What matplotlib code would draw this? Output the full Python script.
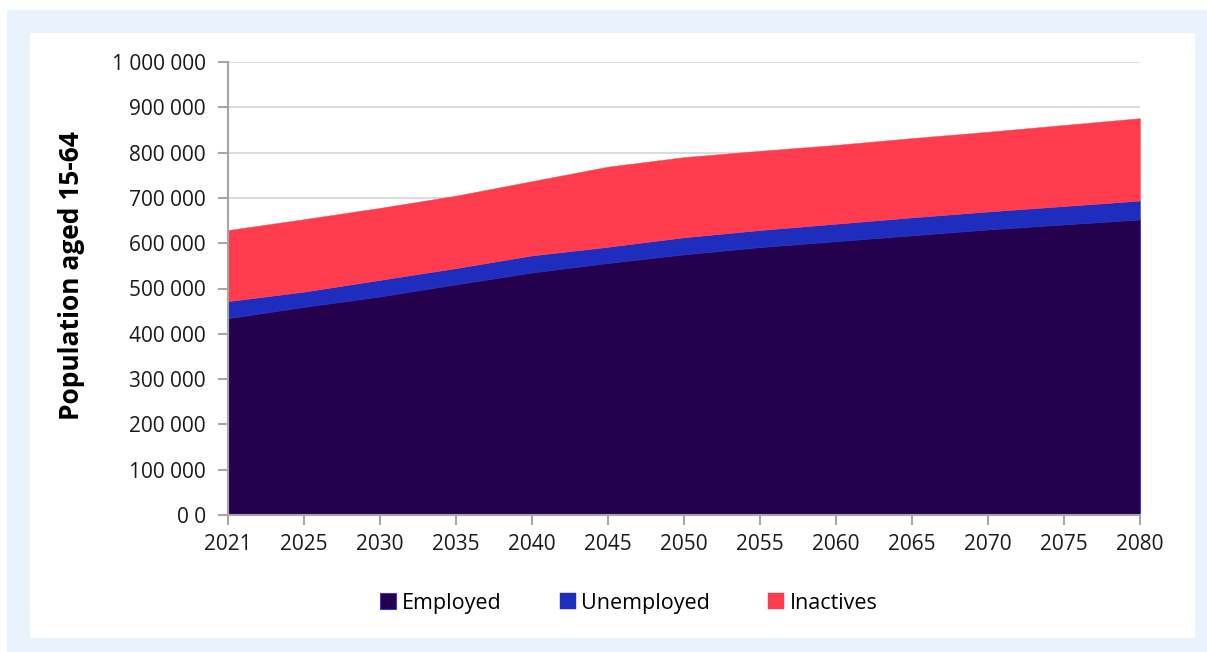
import matplotlib.pyplot as plt
import numpy as np
from matplotlib.patches import Rectangle
from matplotlib.ticker import FuncFormatter

plt.rcParams['font.family'] = ['Open Sans', 'DejaVu Sans']

# Données (population 15-64)
years = ['2021', '2025', '2030', '2035', '2040', '2045', '2050',
         '2055', '2060', '2065', '2070', '2075', '2080']
employed = [435000, 460000, 483000, 510000, 536000, 557000, 576000,
            592000, 605000, 618000, 631000, 642000, 653000]
unemployed = [37000, 33000, 36000, 35000, 37000, 35000, 37000,
              37000, 38000, 39000, 39000, 40000, 41000]
inactives = [157000, 160000, 159000, 160000, 164000, 177000, 177000,
             175000, 174000, 175000, 176000, 179000, 182000]

c_emp = '#25004D'
c_unemp = '#1F2DBE'
c_inact = '#FF3C4D'

fig = plt.figure(figsize=(12.07, 6.52), dpi=100)
fig.patch.set_facecolor('white')

# cadre bleu clair + fond blanc
fig.add_artist(Rectangle((7 / 1207, 0), 1 - 7 / 1207, 1 - 10 / 652,
                         transform=fig.transFigure, facecolor='#EAF3FC',
                         edgecolor='none', zorder=-2))
fig.add_artist(Rectangle((30 / 1207, 1 - 638 / 652), (1195 - 30) / 1207, (638 - 33) / 652,
                         transform=fig.transFigure, facecolor='white',
                         edgecolor='none', zorder=-1))

ax = fig.add_axes([228 / 1207, 1 - 515 / 652, (1140 - 228) / 1207, (515 - 62) / 652])
ax.set_facecolor('none')

x = np.arange(len(years))
polys = ax.stackplot(x, employed, unemployed, inactives,
                     colors=[c_emp, c_unemp, c_inact],
                     labels=['Employed', 'Unemployed', 'Inactives'])
polys[0].set_edgecolor('#3A3AD0')
polys[0].set_linewidth(0.8)
polys[1].set_edgecolor(c_unemp)
polys[1].set_linewidth(0.3)
polys[2].set_edgecolor(c_inact)
polys[2].set_linewidth(0.3)

ax.set_xlim(0, len(years) - 1)
ax.set_ylim(0, 1000000)
ax.set_yticks(np.arange(0, 1000001, 100000))
ax.yaxis.set_major_formatter(FuncFormatter(
    lambda v, p: '0 0' if v == 0 else f'{int(v):,}'.replace(',', ' ')))
ax.set_xticks(x)
ax.set_xticklabels(years)

ax.grid(axis='y', color='#D4D4D4', linewidth=1.2)
ax.set_axisbelow(True)
for s in ['top', 'right']:
    ax.spines[s].set_visible(False)
for s in ['left', 'bottom']:
    ax.spines[s].set_color('#A6A6A6')
    ax.spines[s].set_linewidth(1.5)
    ax.spines[s].set_zorder(5)
ax.tick_params(axis='both', colors='#A6A6A6', width=1.5, length=7, labelsize=15,
               labelcolor='#1a1a1a')
ax.tick_params(axis='y', pad=9)
ax.tick_params(axis='x', pad=7)

ax.set_ylabel('Population aged 15-64', fontsize=19, fontweight='bold')
ax.yaxis.set_label_coords(-0.157, 0.528)

fig.legend(loc='center', bbox_to_anchor=(0.521, 0.075), ncol=3, frameon=False,
           fontsize=15.5, handlelength=0.75, handleheight=0.75, handletextpad=0.25,
           columnspacing=2.7)

fig.savefig('out.png', dpi=100)
